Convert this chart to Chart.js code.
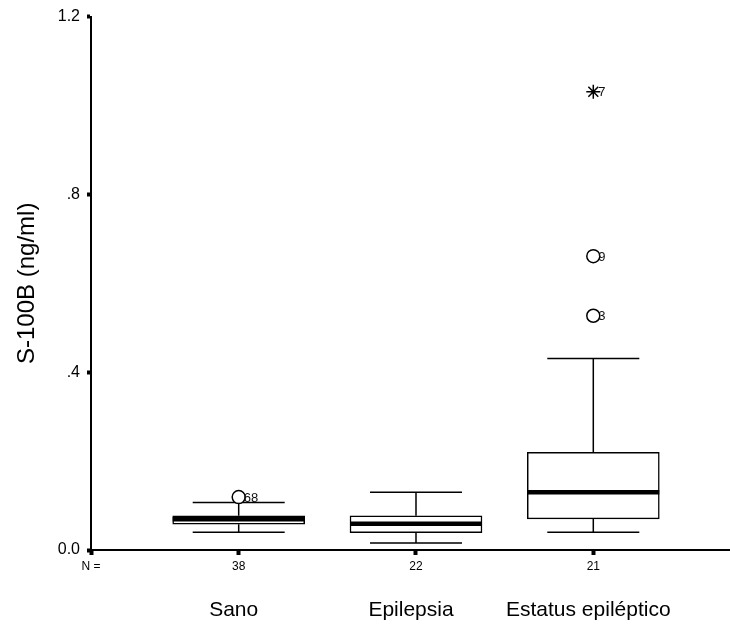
<!DOCTYPE html>
<html>
<head>
<meta charset="utf-8">
<script src="https://cdn.jsdelivr.net/npm/chart.js@4/dist/chart.umd.min.js"></script>
<style>
  html, body { margin: 0; padding: 0; background: #fff; overflow: hidden; }
  #wrap { width: 730px; height: 627px; position: relative; }
  canvas { display: block; }
</style>
</head>
<body>
<div id="wrap"><canvas id="myChart"></canvas></div>
<script>
const groupNames = ['Sano', 'Epilepsia', 'Estatus epiléptico'];
const groupN = [38, 22, 21];
const groupPos = [1, 2, 3];

const whiskerLow = [0.040, 0.016, 0.040];
const q1 = [0.058, 0.039, 0.070];
const median = [0.069, 0.059, 0.130];
const q3 = [0.077, 0.077, 0.220];
const whiskerHigh = [0.107, 0.130, 0.431];

const outlierGroup = [1, 3, 3];
const outlierValues = [0.119, 0.661, 0.527];
const outlierIds = ['68', '9', '3'];

const extremeGroup = [3];
const extremeValues = [1.031];
const extremeIds = ['7'];

const yTicks = [0, 0.4, 0.8, 1.2];
const xMin = 0.167;
const xMax = 3.771;

Chart.defaults.font.family = 'Arial, "Liberation Sans", sans-serif';
Chart.defaults.color = '#000';

// whiskers, medians and case labels, placed with the chart's own scales
const boxPlotLines = {
  id: 'boxPlotLines',
  beforeDatasetsDraw(chart) {
    const ctx = chart.ctx;
    const xs = chart.scales.x;
    const ys = chart.scales.y;
    const capHalf = 46;
    ctx.save();
    ctx.strokeStyle = '#000';
    ctx.lineWidth = 1.5;
    groupPos.forEach((g, i) => {
      const px = xs.getPixelForValue(g);
      const pHigh = ys.getPixelForValue(whiskerHigh[i]);
      const pLow = ys.getPixelForValue(whiskerLow[i]);
      ctx.beginPath();
      ctx.moveTo(px, ys.getPixelForValue(q3[i]));
      ctx.lineTo(px, pHigh);
      ctx.moveTo(px - capHalf, pHigh);
      ctx.lineTo(px + capHalf, pHigh);
      ctx.moveTo(px, ys.getPixelForValue(q1[i]));
      ctx.lineTo(px, pLow);
      ctx.moveTo(px - capHalf, pLow);
      ctx.lineTo(px + capHalf, pLow);
      ctx.stroke();
    });
    ctx.restore();
  },
  afterDatasetDraw(chart, args) {
    const ctx = chart.ctx;
    const ys = chart.scales.y;
    if (args.index === 0) {
      ctx.save();
      ctx.strokeStyle = '#000';
      ctx.lineWidth = 4.5;
      args.meta.data.forEach((bar, i) => {
        const py = ys.getPixelForValue(median[i]);
        ctx.beginPath();
        ctx.moveTo(bar.x - bar.width / 2, py);
        ctx.lineTo(bar.x + bar.width / 2, py);
        ctx.stroke();
      });
      ctx.restore();
    }
    if (args.index === 1 || args.index === 2) {
      const ids = args.index === 1 ? outlierIds : extremeIds;
      ctx.save();
      ctx.fillStyle = '#111';
      ctx.font = '13px Arial, "Liberation Sans", sans-serif';
      ctx.textAlign = 'left';
      ctx.textBaseline = 'middle';
      args.meta.data.forEach((pt, i) => {
        ctx.fillText(ids[i], pt.x + 5, pt.y + 1);
      });
      ctx.restore();
    }
  }
};

new Chart(document.getElementById('myChart'), {
  type: 'bar',
  data: {
    datasets: [{
      label: 'Caja',
      data: groupPos.map((g, i) => ({ x: g, y: [q1[i], q3[i]] })),
      backgroundColor: '#fff',
      borderColor: '#000',
      borderWidth: 1.5,
      borderSkipped: false,
      barThickness: 132
    }, {
      type: 'line',
      label: 'Atípicos',
      data: outlierGroup.map((g, i) => ({ x: g, y: outlierValues[i] })),
      showLine: false,
      pointStyle: 'circle',
      pointRadius: 6.5,
      pointBackgroundColor: '#fff',
      pointBorderColor: '#000',
      pointBorderWidth: 1.5
    }, {
      type: 'line',
      label: 'Extremos',
      data: extremeGroup.map((g, i) => ({ x: g, y: extremeValues[i] })),
      showLine: false,
      pointStyle: 'star',
      pointRadius: 7,
      pointBorderColor: '#000',
      pointBorderWidth: 1.5
    }]
  },
  options: {
    responsive: true,
    maintainAspectRatio: false,
    animation: false,
    layout: { autoPadding: false, padding: { top: 16, right: 0, bottom: 0, left: 0 } },
    plugins: {
      legend: { display: false },
      tooltip: { enabled: false }
    },
    scales: {
      x: {
        type: 'linear',
        position: 'bottom',
        weight: 0,
        min: xMin,
        max: xMax,
        offset: false,
        afterBuildTicks: s => { s.ticks = [{ value: xMin }].concat(groupPos.map(v => ({ value: v }))); },
        afterFit: s => { s.height = 30; },
        grid: { drawOnChartArea: false, offset: false, color: '#000', tickLength: 5, tickWidth: 4 },
        border: { color: '#000', width: 2 },
        ticks: {
          font: { size: 12 },
          color: '#000',
          padding: 4,
          maxRotation: 0,
          autoSkip: false,
          callback: (v, i) => i === 0 ? 'N =' : String(groupN[i - 1])
        }
      },
      x2: {
        type: 'linear',
        position: 'bottom',
        weight: 1,
        min: xMin,
        max: xMax,
        offset: false,
        afterBuildTicks: s => { s.ticks = groupPos.map(v => ({ value: v })); },
        afterFit: s => { s.height = 47; },
        grid: { display: false, drawTicks: false },
        border: { display: false },
        ticks: {
          font: { size: 21 },
          color: '#000',
          padding: 18,
          labelOffset: -5,
          maxRotation: 0,
          autoSkip: false,
          callback: (v, i) => groupNames[i]
        }
      },
      y: {
        min: 0,
        max: 1.2,
        afterBuildTicks: s => { s.ticks = yTicks.map(v => ({ value: v })); },
        afterFit: s => { s.width = 91; },
        grid: { drawOnChartArea: false, color: '#000', tickLength: 4, tickWidth: 4 },
        border: { color: '#000', width: 2 },
        ticks: {
          font: { size: 16 },
          color: '#000',
          padding: 7,
          callback: v => v === 0 ? '0.0' : String(v).replace(/^0/, '')
        },
        title: {
          display: true,
          text: 'S-100B (ng/ml)',
          font: { size: 24 },
          color: '#000',
          padding: { top: 13 }
        }
      }
    }
  },
  plugins: [boxPlotLines]
});
</script>
</body>
</html>
